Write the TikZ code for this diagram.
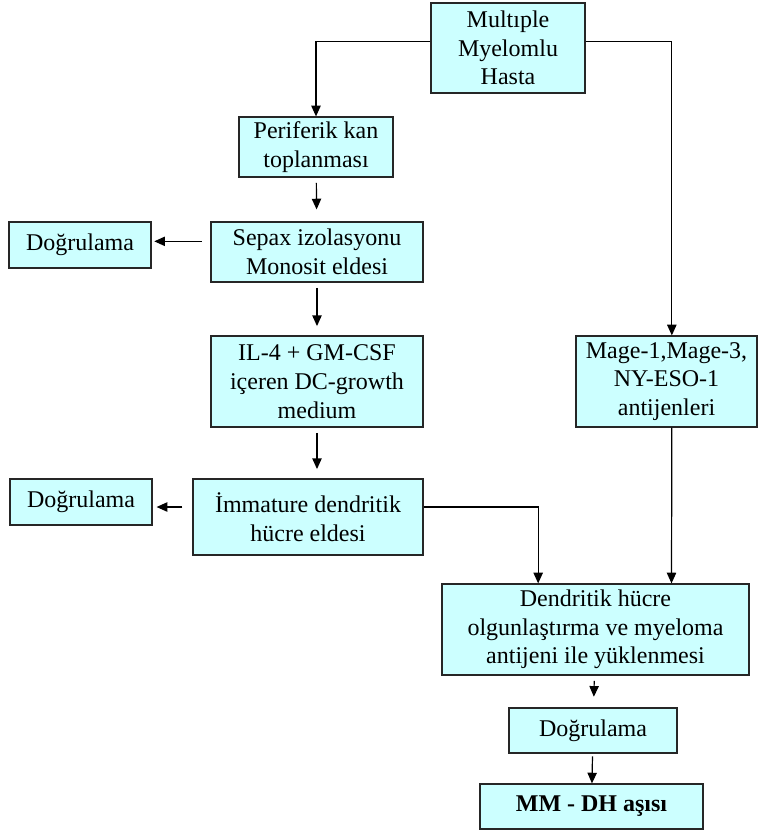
\documentclass[tikz,border=0pt]{standalone}
\usepackage{fontspec}
\setmainfont{Liberation Serif}
\usetikzlibrary{arrows.meta}
\definecolor{boxfill}{HTML}{CCFFFF}
\tikzset{
	box/.style={draw=black!85, fill=boxfill, line width=.9pt, align=center, inner sep=1pt,
		font=\fontsize{18}{21.5}\selectfont},
	link/.style={line width=.9pt, -{Triangle[length=8pt,width=7pt]}}
}
\begin{document}
\begin{tikzpicture}[x=.75pt, y=-.75pt]
				\useasboundingbox (0,0) rectangle (760,832);
				
				\draw(508,48) node[box, minimum width=115.5pt, minimum height=67.5pt] (hasta) {Mult\i ple\\Myelomlu\\Hasta};
				\draw(316,147) node[box, minimum width=115.5pt, minimum height=45pt] (kan) {Periferik kan\\toplanması};
				\draw(317,252) node[box, minimum width=159pt, minimum height=45pt] (sepax) {Sepax izolasyonu\\Monosit eldesi};
				\draw(80,245) node[box, minimum width=106.5pt, minimum height=34.5pt] (dog1) {Doğrulama};
				\draw(317,381.5) node[box, minimum width=159pt, minimum height=68.25pt] (medium) {IL-4 + GM-CSF\\içeren DC-growth\\medium};
				\draw(666.5,381.5) node[box, minimum width=135.75pt, minimum height=68.25pt] (mage) {Mage-1,Mage-3,\\NY-ESO-1\\antijenleri};
				\draw(308,517) node[box, minimum width=172.5pt, minimum height=57pt] (imm) {İmmature dendritik\\hücre eldesi};
				\draw(81,502) node[box, minimum width=106.5pt, minimum height=34.5pt] (dog2) {Doğrulama};
				\draw(595.5,629.5) node[box, minimum width=230.25pt, minimum height=68.25pt] (olg) {Dendritik hücre\\olgunlaştırma ve myeloma\\antijeni ile yüklenmesi};
				\draw(593,730.5) node[box, minimum width=126pt, minimum height=33.75pt] (dog3) {Doğrulama};
				\draw(591.5,806.5) node[box, minimum width=167.25pt, minimum height=33.75pt] (asi) {\textbf{MM - DH aşısı}};
				
				\draw[link] ([yshift=5pt]hasta.west) -| (kan.north);
				\draw[link] ([yshift=5pt]hasta.east) -| ([xshift=4pt]mage.north);
				
				\draw[link, shorten <=4pt, shorten >=9pt] (kan) -- (sepax);
				\draw[link, shorten <=4pt, shorten >=7pt] (sepax) -- (medium);
				\draw[link, shorten <=4pt, shorten >=7pt] (medium.south) -- (medium.south |- imm.north);
				
				\draw[link, shorten <=6.5pt, shorten >=2pt] ([yshift=8pt]sepax.west) -- ([yshift=8pt]sepax.west -| dog1.east);
				\draw[link, shorten <=7.5pt, shorten >=3pt] ([yshift=7.5pt]imm.west) -- ([yshift=7.5pt]imm.west -| dog2.east);
				
				\draw[link] ([yshift=7.5pt]imm.east) -| ([xshift=-43pt]olg.north);
				\draw[link] ([xshift=4pt]mage.south) -- ([xshift=57pt]olg.north);
				
				\draw[link, shorten <=4pt, shorten >=8pt] (olg) -- (dog3);
				\draw[link, shorten <=2pt] (dog3) -- (asi);
				
		\end{tikzpicture}
\end{document}
